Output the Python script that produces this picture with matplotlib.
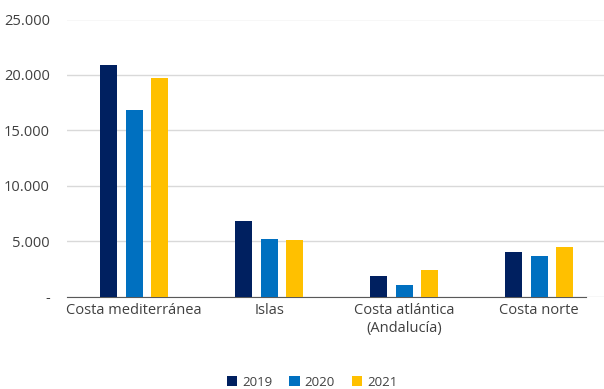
import numpy as np
import matplotlib
matplotlib.use("Agg")
import matplotlib.pyplot as plt

# datos
categorias = ["Costa mediterránea", "Islas", "Costa atlántica\n(Andalucía)", "Costa norte"]
anios = ["2019", "2020", "2021"]
v2019 = [20900, 6800, 1860, 4010]
v2020 = [16860, 5180, 1020, 3650]
v2021 = [19690, 5060, 2380, 4500]
yticks = [0, 5000, 10000, 15000, 20000, 25000]
ytick_labels = ["-", "5.000", "10.000", "15.000", "20.000", "25.000"]

colores = ["#002060", "#0070C0", "#FFC000"]
plt.rcParams["font.family"] = ["Open Sans", "DejaVu Sans"]

fig = plt.figure(figsize=(6.04, 3.89), dpi=100)
ax = fig.add_axes([66.5 / 604, (389 - 296.5) / 389, (604 - 66.5) / 604, (296.5 - 19.5) / 389])

x = np.arange(len(categorias))
width = 0.126
for i, (serie, lab) in enumerate(zip([v2019, v2020, v2021], anios)):
    ax.bar(x + (i - 1) * 0.19, serie, width, color=colores[i], label=lab, zorder=3)

ax.set_xlim(-0.5, 3.48)
ax.set_ylim(0, 25000)
ax.set_yticks(yticks)
ax.set_yticklabels(ytick_labels)
ax.set_xticks(x)
ax.set_xticklabels(categorias)
ax.grid(axis="y", color="#d9d9d9", lw=1, zorder=0)
for s in ["top", "right", "left"]:
    ax.spines[s].set_visible(False)
ax.spines["bottom"].set_color("#595959")
ax.spines["bottom"].set_bounds(-0.5, 3.35)
ax.tick_params(axis="both", length=0, labelsize=10.5, colors="#404040")
ax.tick_params(axis="y", pad=12)
ax.tick_params(axis="x", pad=5)

fig.legend(loc="center", bbox_to_anchor=(312 / 604, 1 - 382 / 389), ncol=3, frameon=False,
           fontsize=9.5, handlelength=0.8, handleheight=0.8, handletextpad=0.35,
           columnspacing=1.3, labelcolor="#404040")

fig.savefig("out.png", dpi=100)
